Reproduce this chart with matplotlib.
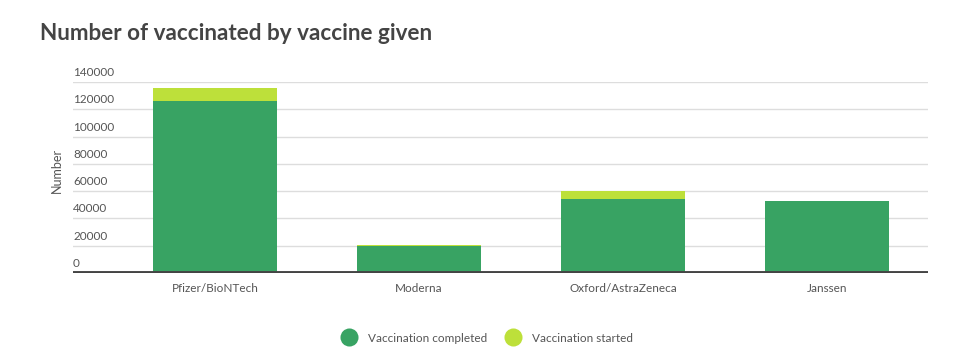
import matplotlib
matplotlib.use("Agg")
import matplotlib.pyplot as plt
from matplotlib.lines import Line2D
import matplotlib.transforms as mtransforms

categories = ["Pfizer/BioNTech", "Moderna", "Oxford/AstraZeneca", "Janssen"]
completed = [126300, 19500, 54200, 53000]
started = [9100, 1000, 5900, 0]
yticks = [0, 20000, 40000, 60000, 80000, 100000, 120000, 140000]
series_names = ["Vaccination completed", "Vaccination started"]

c_completed = "#38a363"
c_started = "#bde03a"
txt = "#555555"

plt.rcParams['font.family'] = ['Lato', 'DejaVu Sans']
fig = plt.figure(figsize=(9.57, 3.55), dpi=100)
ax = fig.add_axes([73/957, 1-273/355, (928-73)/957, (273-82)/355])

x = list(range(len(categories)))
ax.bar(x, completed, width=0.61, color=c_completed, zorder=3)
ax.bar(x, started, width=0.61, bottom=completed, color=c_started, zorder=3)

ax.set_xlim(-0.696, 3.495)
ax.set_ylim(0, 140000)
for s in ax.spines.values():
    s.set_visible(False)
ax.set_yticks([])
ax.set_xticks(x)
ax.set_xticklabels(categories, fontsize=8.5, color=txt)
ax.tick_params(axis='x', length=0, pad=7)

trans = mtransforms.blended_transform_factory(ax.transAxes, ax.transData)
off = mtransforms.ScaledTranslation(0, 4/100, fig.dpi_scale_trans)
for t in yticks:
    ax.axhline(t, color="#dddddd", lw=1, zorder=1)
    ax.text(0, t, str(t), transform=trans + off, fontsize=8.5, color=txt,
            ha='left', va='bottom', clip_on=False)
ax.axhline(0, color="#444444", lw=2.8, zorder=4)

fig.text(57/957, 1-170/355, "Number", rotation=90, fontsize=9, color=txt,
         ha='center', va='center')

fig.text(40/957, 1-33/355, "Number of vaccinated by vaccine given", fontsize=16.2,
         fontweight='bold', color="#444444", ha='left', va='center')

handles = [Line2D([], [], marker='o', linestyle='none', markersize=13,
                  color=c, markeredgewidth=0) for c in (c_completed, c_started)]
fig.legend(handles, series_names, loc='center', bbox_to_anchor=(485/957, 1-338/355),
           ncol=2, frameon=False, fontsize=8.5, labelcolor=txt, handletextpad=0.6,
           columnspacing=1.2)

fig.savefig("out.png", dpi=100, facecolor="white")
